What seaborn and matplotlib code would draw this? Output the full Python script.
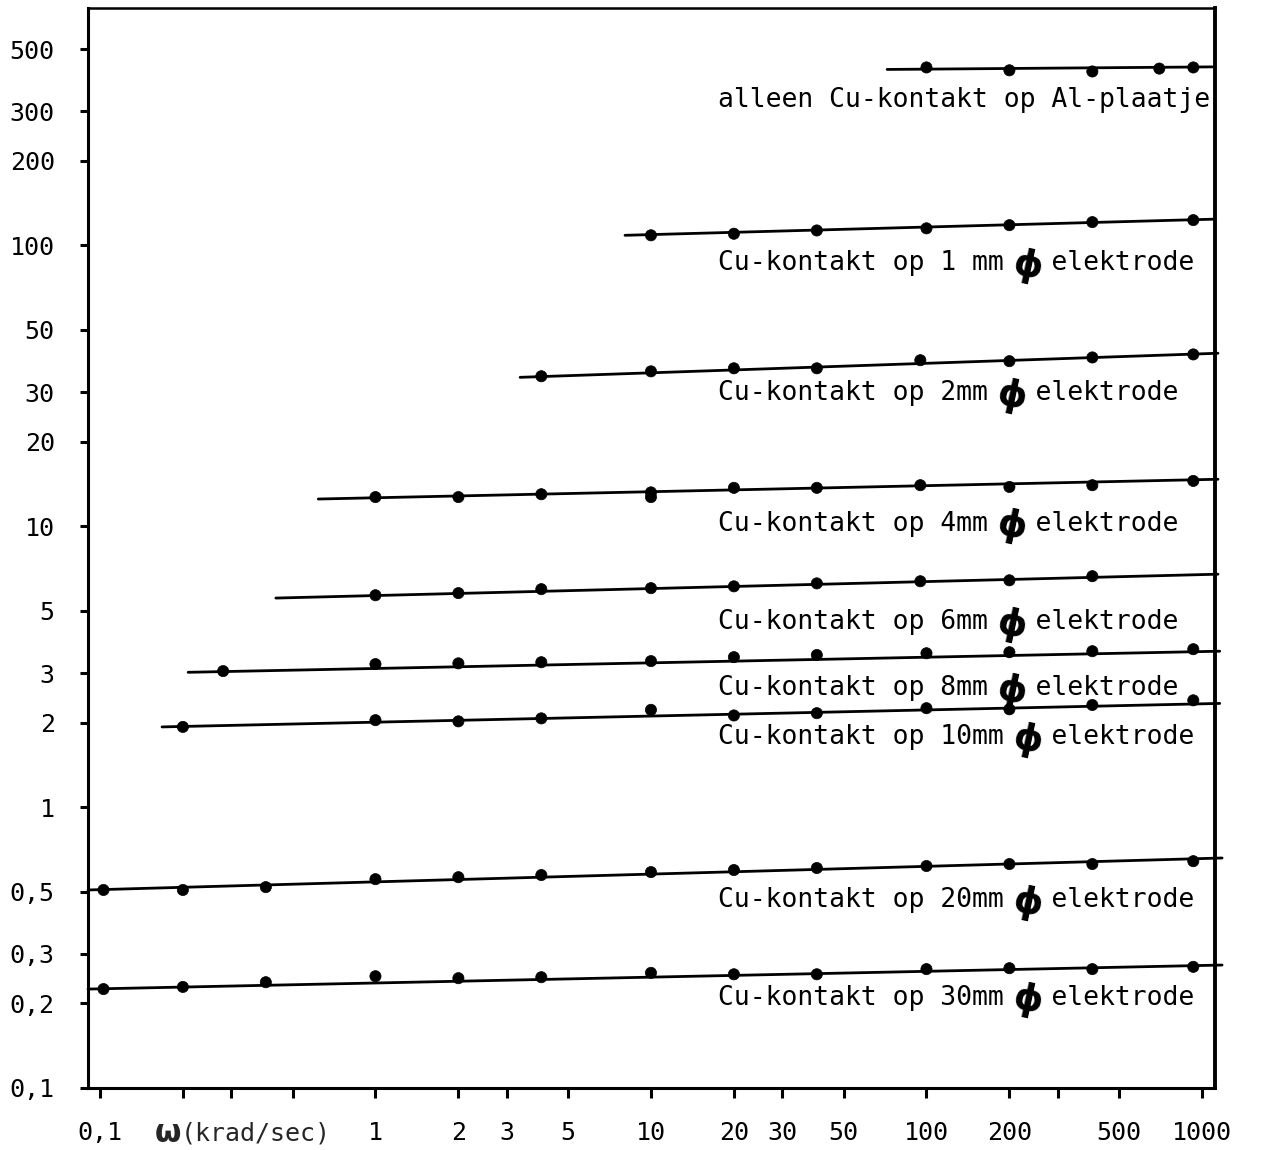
import numpy as np
import pandas as pd
import matplotlib
matplotlib.use("Agg")
import matplotlib.pyplot as plt
import matplotlib.transforms as mtransforms
from matplotlib.ticker import FixedLocator, FixedFormatter, NullLocator
import seaborn as sns

# ---- measured points: omega (krad/sec) and impedance per contact ----
omega_al = [100, 200, 400, 700, 930]
z_al = [430, 420, 416, 426, 430]

omega_1mm = [10, 20, 40, 100, 200, 400, 930]
z_1mm = [108.6, 110, 113, 115, 118, 121, 123]

omega_2mm = [4, 10, 20, 40, 95, 200, 400, 930]
z_2mm = [34.2, 35.6, 36.5, 36.5, 39.0, 38.7, 39.9, 40.9]

omega_4mm = [1, 2, 4, 10, 10, 20, 40, 95, 200, 400, 930]
z_4mm = [12.7, 12.7, 13.0, 13.2, 12.7, 13.7, 13.7, 14.0, 13.8, 14.0, 14.5]

omega_6mm = [1, 2, 4, 10, 20, 40, 95, 200, 400]
z_6mm = [5.68, 5.78, 5.97, 6.02, 6.11, 6.26, 6.37, 6.42, 6.64]

omega_8mm = [0.28, 1, 2, 4, 10, 20, 40, 100, 200, 400, 930]
z_8mm = [3.05, 3.23, 3.25, 3.28, 3.31, 3.42, 3.48, 3.53, 3.56, 3.59, 3.65]

omega_10mm = [0.2, 1, 2, 4, 10, 20, 40, 100, 200, 400, 930]
z_10mm = [1.93, 2.04, 2.02, 2.07, 2.22, 2.12, 2.16, 2.25, 2.23, 2.31, 2.40]

omega_20mm = [0.103, 0.2, 0.4, 1, 2, 4, 10, 20, 40, 100, 200, 400, 930]
z_20mm = [0.507, 0.507, 0.519, 0.554, 0.563, 0.573, 0.587, 0.597, 0.607,
          0.617, 0.627, 0.627, 0.642]

omega_30mm = [0.103, 0.2, 0.4, 1, 2, 4, 10, 20, 40, 100, 200, 400, 930]
z_30mm = [0.225, 0.229, 0.238, 0.250, 0.246, 0.248, 0.257, 0.254, 0.254,
          0.265, 0.267, 0.265, 0.270]

series_names = ["Al", "1mm", "2mm", "4mm", "6mm", "8mm", "10mm", "20mm", "30mm"]
series_omega = [omega_al, omega_1mm, omega_2mm, omega_4mm, omega_6mm,
                omega_8mm, omega_10mm, omega_20mm, omega_30mm]
series_z = [z_al, z_1mm, z_2mm, z_4mm, z_6mm, z_8mm, z_10mm, z_20mm, z_30mm]

# ---- drawn trend lines: start and end (omega, z) ----
fit_w0 = [72, 8.05, 3.35, 0.62, 0.435, 0.209, 0.168, 0.0905, 0.0905]
fit_z0 = [423, 108.6, 33.9, 12.5, 5.55, 3.02, 1.93, 0.507, 0.225]
fit_w1 = [1090, 1115, 1143, 1143, 1143, 1160, 1160, 1183, 1183]
fit_z1 = [432, 124, 41.3, 14.7, 6.75, 3.59, 2.34, 0.659, 0.274]

# ---- curve labels ----
label_text = [
    "alleen Cu-kontakt op Al-plaatje",
    "Cu-kontakt op 1 mm ϕ elektrode",
    "Cu-kontakt op 2mm ϕ elektrode",
    "Cu-kontakt op 4mm ϕ elektrode",
    "Cu-kontakt op 6mm ϕ elektrode",
    "Cu-kontakt op 8mm ϕ elektrode",
    "Cu-kontakt op 10mm ϕ elektrode",
    "Cu-kontakt op 20mm ϕ elektrode",
    "Cu-kontakt op 30mm ϕ elektrode",
]
label_z = [328, 86.3, 29.7, 10.2, 4.55, 2.65, 1.77, 0.466, 0.209]
label_omega = 17.5

# ---- axis ticks ----
x_ticks = [0.1, 0.2, 0.3, 0.5, 1, 2, 3, 5, 10, 20, 30, 50, 100, 200, 300, 500, 1000]
x_tick_labels = ["0,1", "", "", "", "1", "2", "3", "5", "10", "20", "30", "50",
                 "100", "200", "", "500", "1000"]
y_ticks = [0.1, 0.2, 0.3, 0.5, 1, 2, 3, 5, 10, 20, 30, 50, 100, 200, 300, 500]
y_tick_labels = ["0,1", "0,2", "0,3", "0,5", "1", "2", "3", "5", "10", "20",
                 "30", "50", "100", "200", "300", "500"]

points = pd.concat(
    [pd.DataFrame({"omega": w, "z": z, "series": n})
     for n, w, z in zip(series_names, series_omega, series_z)],
    ignore_index=True)
lines = pd.concat(
    [pd.DataFrame({"omega": [a, b], "z": [c, d], "series": n})
     for n, a, b, c, d in zip(series_names, fit_w0, fit_w1, fit_z0, fit_z1)],
    ignore_index=True)

sns.set_theme(style="ticks")
mono = ["DejaVu Sans Mono", "DejaVu Sans"]
plt.rcParams["font.family"] = mono
plt.rcParams["axes.edgecolor"] = "black"

W, H = 1264, 1150
fig = plt.figure(figsize=(W / 100, H / 100), dpi=100)
fig.patch.set_facecolor("white")
ax = fig.add_axes([88 / W, 1 - 1088 / H, (1215 - 88) / W, (1088 - 8) / H])
ax.set_facecolor("white")

black = {n: "black" for n in series_names}
sns.lineplot(data=lines, x="omega", y="z", hue="series", palette=black,
             estimator=None, sort=False, linewidth=2.0, legend=False, ax=ax)
for ln in ax.get_lines():
    ln.set_clip_on(False)
sns.scatterplot(data=points, x="omega", y="z", hue="series", palette=black,
                s=65, edgecolor="black", linewidth=0.5, legend=False, ax=ax,
                zorder=3)

ax.set_xscale("log")
ax.set_yscale("log")
ax.set_xlim(0.0905, 1115)
ax.set_ylim(0.1, 700)

ax.xaxis.set_major_locator(FixedLocator(x_ticks))
ax.xaxis.set_major_formatter(FixedFormatter(x_tick_labels))
ax.xaxis.set_minor_locator(NullLocator())
ax.yaxis.set_major_locator(FixedLocator(y_ticks))
ax.yaxis.set_major_formatter(FixedFormatter(y_tick_labels))
ax.yaxis.set_minor_locator(NullLocator())

ax.tick_params(axis="x", direction="out", length=7, width=2.2, pad=17,
               labelsize=18, colors="black")
ax.tick_params(axis="y", direction="out", length=6, width=2.2, pad=18,
               labelsize=18, colors="black")
ax.set_xlabel("")
ax.set_ylabel("")

for side, lw in [("left", 2.2), ("bottom", 2.2), ("top", 1.8), ("right", 2.8)]:
    ax.spines[side].set_visible(True)
    ax.spines[side].set_linewidth(lw)
    ax.spines[side].set_color("black")

# omega label sitting in the tick-label row
blend = mtransforms.blended_transform_factory(ax.transData, ax.transAxes)
ax.text(0.176, -0.042, "ω", transform=blend, ha="center", va="center",
        fontsize=22, fontweight="bold", family=["DejaVu Sans"])
ax.text(0.197, -0.042, "(krad/sec)", transform=blend, ha="left",
        va="center", fontsize=18, family=mono)

# curve labels with a heavier, slanted diameter sign
fs = 19
cw = 0.602 * fs
for txt, zl in zip(label_text, label_z):
    idx = txt.find("ϕ")
    ax.text(label_omega, zl, txt.replace("ϕ", " "), ha="left", va="center",
            fontsize=fs, family=mono, color="black")
    if idx >= 0:
        ax.annotate("ϕ", xy=(label_omega, zl),
                    xytext=(idx * cw + cw / 2, -2), textcoords="offset points",
                    ha="center", va="center", fontsize=27, fontweight="bold",
                    rotation=-12, family=["DejaVu Sans"], color="black")

fig.savefig("out.png", dpi=100, facecolor="white")
